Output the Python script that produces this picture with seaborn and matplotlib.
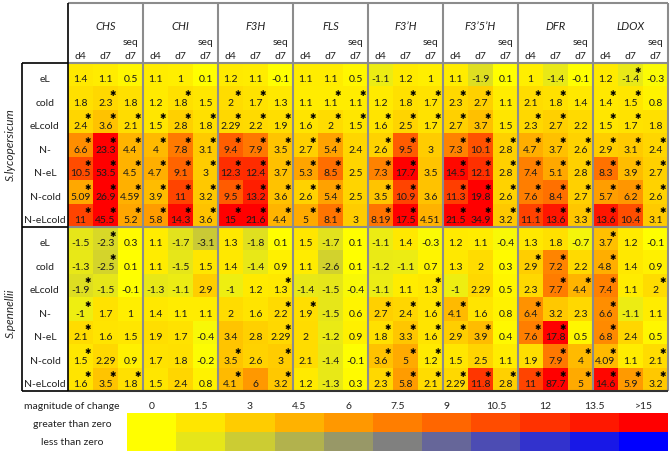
"""Fold change of flavonoid genes in two tomato species, drawn as a heatmap."""
import numpy as np
import matplotlib
matplotlib.use("Agg")
import matplotlib.pyplot as plt
from matplotlib.colors import LinearSegmentedColormap
import seaborn as sns

genes = ["CHS", "CHI", "F3H", "FLS", "F3\u2019H", "F3\u20195\u2019H", "DFR", "LDOX"]
days = ["d4", "d7", "d7"]
conditions = ["eL", "cold", "eLcold", "N-", "N-eL", "N-cold", "N-eLcold"]
species = ["S.lycopersicum", "S.pennellii"]

# one row per condition, columns: gene x (d4, d7, seq d7)
lyc_values = [
    [1.4, 1.1, 0.5, 1.1, 1, 0.1, 1.2, 1.1, -0.1, 1.1, 1.1, 0.5, -1.1, 1.2, 1, 1.1, -1.9, 0.1, 1, -1.4, -0.1, 1.2, -1.4, -0.3],
    [1.8, 2.3, 1.8, 1.2, 1.8, 1.5, 2, 1.7, 1.3, 1.1, 1.1, 1.1, 1.2, 1.8, 1.7, 2.3, 2.7, 1.1, 2.1, 1.8, 1.4, 1.4, 1.5, 0.8],
    [2.4, 3.6, 2.1, 1.5, 2.8, 1.8, 2.29, 2.2, 1.9, 1.6, 2, 1.5, 1.6, 2.5, 1.7, 2.7, 3.7, 1.5, 2.3, 2.7, 2.2, 1.5, 1.7, 1.8],
    [6.6, 23.3, 4.4, 4, 7.8, 3.1, 9.4, 7.9, 3.5, 2.7, 5.4, 2.4, 2.6, 9.5, 3, 7.3, 10.1, 2.8, 4.7, 3.7, 2.6, 2.9, 3.1, 2.4],
    [10.5, 53.5, 4.5, 4.7, 9.1, 3, 12.3, 12.4, 3.7, 5.3, 8.5, 2.5, 7.3, 17.7, 3.5, 14.5, 12.1, 2.8, 7.4, 5.1, 2.8, 8.3, 3.9, 2.7],
    [5.09, 26.9, 4.59, 3.9, 11, 3.2, 9.5, 13.2, 3.6, 2.6, 5.4, 2.5, 3.5, 10.9, 3.6, 11.3, 19.8, 2.6, 7.6, 8.4, 2.7, 5.7, 6.2, 2.6],
    [11, 45.5, 5.2, 5.8, 14.3, 3.6, 15, 21.6, 4.4, 5, 8.1, 3, 8.19, 17.5, 4.51, 21.5, 34.9, 3.2, 11.1, 13.6, 3.3, 13.6, 10.4, 3.1],
]
pen_values = [
    [-1.5, -2.3, 0.3, 1.1, -1.7, -3.1, 1.3, -1.8, 0.1, 1.5, -1.7, 0.1, -1.1, 1.4, -0.3, 1.2, 1.1, -0.4, 1.3, 1.8, -0.7, 3.7, 1.2, -0.1],
    [-1.3, -2.5, 0.1, 1.1, -1.5, 1.5, 1.4, -1.4, 0.9, 1.1, -2.6, 0.1, -1.2, -1.1, 0.7, 1.3, 2, 0.3, 2.9, 7.2, 2.2, 4.8, 1.4, 0.9],
    [-1.9, -1.5, -0.1, -1.3, -1.1, 2.9, -1, 1.2, 1.3, -1.4, -1.5, -0.4, -1.1, 1.1, 1.3, -1, 2.29, 0.5, 2.3, 7.7, 4.4, 7.4, 1.1, 2],
    [-1, 1.7, 1, 1.4, 1.1, 1.1, 2, 1.6, 2.2, 1.9, -1.5, 0.6, 2.7, 2.4, 1.6, 4.1, 1.6, 0.8, 6.4, 3.2, 2.3, 6.6, -1.1, 1.1],
    [2.1, 1.6, 1.5, 1.9, 1.7, -0.4, 3.4, 2.8, 2.29, 2, -1.2, 0.9, 1.8, 3.3, 1.6, 2.9, 3.9, 0.4, 7.6, 17.8, 0.5, 6.8, 2.4, 0.5],
    [1.5, 2.29, 0.9, 1.7, 1.8, -0.2, 3.5, 2.6, 3, 2.1, -1.4, -0.1, 3.6, 5, 1.2, 1.5, 2.5, 1.1, 1.9, 7.9, 4, 4.09, 1.1, 2.1],
    [1.6, 3.5, 1.8, 1.5, 2.4, 0.8, 4.1, 6, 3.2, 1.2, -1.3, 0.3, 2.3, 5.8, 2.1, 2.29, 11.8, 2.8, 11, 87.7, 5, 14.6, 5.9, 3.2],
]

# column indices of significant cells (star), per condition row
lyc_stars = [
    [22],
    [1, 4, 6, 7, 10, 11, 13, 14, 15, 16, 18, 19, 21, 22],
    [0, 1, 2, 3, 4, 5, 6, 7, 8, 9, 10, 11, 12, 13, 14, 15, 16, 18, 19, 21, 22],
    [0, 1, 2, 3, 4, 5, 6, 7, 8, 9, 10, 12, 13, 15, 16, 17, 18, 19, 20, 21, 22, 23],
    [0, 1, 2, 3, 4, 5, 6, 7, 8, 9, 10, 12, 13, 15, 16, 17, 18, 19, 20, 21, 22, 23],
    [0, 1, 2, 3, 4, 5, 6, 7, 8, 9, 10, 12, 13, 15, 16, 17, 18, 19, 20, 21, 22, 23],
    [0, 1, 2, 3, 4, 5, 6, 7, 8, 9, 10, 12, 13, 15, 16, 17, 18, 19, 20, 21, 22, 23],
]
pen_stars = [
    [1, 21],
    [1, 18, 19, 21],
    [0, 8, 14, 19, 20, 21, 23],
    [0, 8, 9, 12, 13, 14, 15, 18, 21],
    [0, 8, 12, 13, 14, 15, 16, 18, 19, 21],
    [0, 6, 8, 12, 13, 14, 19, 20, 21, 23],
    [0, 1, 2, 6, 8, 12, 13, 14, 15, 16, 17, 18, 19, 20, 21, 22, 23],
]

legend_ticks = ["0", "1.5", "3", "4.5", "6", "7.5", "9", "10.5", "12", "13.5", ">15"]
legend_steps = [0, 1.5, 3, 4.5, 6, 7.5, 9, 10.5, 12, 13.5, 15]

sns.set_style("white")
plt.rcParams['font.family'] = ['Lato', 'DejaVu Sans']

# negative fold change: yellow -> blue, positive: yellow -> red
cmap = LinearSegmentedColormap.from_list(
    "fc", [(0.0, "#0000ff"), (0.5, "#ffff00"), (1.0, "#ff0000")])

values = np.array(lyc_values + pen_values)
stars = lyc_stars + pen_stars
n_rows, n_cols = values.shape

fig = plt.figure(figsize=(6.72, 4.55), dpi=100)
ax = fig.add_axes([68 / 672, 1 - 391 / 455, 600 / 672, 328 / 455])
sns.heatmap(values, cmap=cmap, vmin=-15, vmax=15, cbar=False, ax=ax,
            xticklabels=False, yticklabels=False)

for i in range(n_rows):
    for j in range(n_cols):
        ax.text(j + 0.5, i + 0.72, f"{values[i, j]:g}", ha="center",
                va="center", fontsize=7.5, color="#1a1a1a")
    for j in stars[i]:
        ax.text(j + 0.78, i + 0.3, "\u2731", ha="center", va="center",
                fontsize=5.5, color="black", family="DejaVu Sans")

# header
top = -2.56
for g, gene in enumerate(genes):
    ax.text(3 * g + 1.5, -1.55, gene, ha="center", va="center",
            fontsize=8, style="italic", color="#222222")
    ax.text(3 * g + 2.5, -0.88, "seq", ha="center", va="center",
            fontsize=7.5, color="#222222")
    for k, d in enumerate(days):
        ax.text(3 * g + k + 0.5, -0.28, d, ha="center", va="center",
                fontsize=7.5, color="#222222")

# row labels and species labels
lab_x = (45 - 68) / 25
box_x = (22 - 68) / 25
for s, sp in enumerate(species):
    for r, cond in enumerate(conditions):
        ax.text(lab_x, 7 * s + r + 0.72, cond, ha="center", va="center",
                fontsize=7.5, color="#222222")
    ax.text((10 - 68) / 25, 7 * s + 3.5 + 0.2 * s, sp, rotation=90,
            ha="center", va="center", fontsize=8.5, style="italic")

# grid lines
line = dict(clip_on=False, solid_capstyle="butt")
for g in range(1, 8):
    ax.plot([3 * g, 3 * g], [top, n_rows], color="#8c8c8c", lw=1.5, **line)
ax.plot([24, 24], [top, n_rows], color="#8c8c8c", lw=1.5, **line)
ax.plot([0, 24], [top, top], color="#8c8c8c", lw=1.5, **line)
ax.plot([0, 24], [0, 0], color="#8c8c8c", lw=1.5, **line)
ax.plot([0, 24], [7, 7], color="#8c8c8c", lw=1.5, **line)
ax.plot([0, 24], [n_rows, n_rows], color="#333333", lw=1.5, **line)
ax.plot([0, 0], [top, n_rows], color="black", lw=1.2, **line)
ax.plot([box_x, box_x], [0, n_rows], color="black", lw=1.2, **line)
ax.plot([box_x, 0], [0, 0], color="black", lw=1.2, **line)
ax.plot([box_x, 0], [7, 7], color="black", lw=1.2, **line)
ax.plot([box_x, 0], [n_rows, n_rows], color="black", lw=1.2, **line)

# legend as a small heatmap
leg = fig.add_axes([127 / 672, 1 - 451 / 455, 541 / 672, 38 / 455])
leg_vals = np.array([legend_steps, [-v for v in legend_steps]])
sns.heatmap(leg_vals, cmap=cmap, vmin=-15, vmax=15, cbar=False, ax=leg,
            xticklabels=False, yticklabels=False)
for k, t in enumerate(legend_ticks):
    leg.text(k + 0.5, -0.32, t, ha="center", va="center", fontsize=7.5,
             color="#222222")
lx = (72 - 127) / 49.2
leg.text(lx, -0.32, "magnitude of change", ha="center", va="center",
         fontsize=7.5, color="#222222")
leg.text(lx, 0.62, "greater than zero", ha="center", va="center",
         fontsize=7.5, color="#222222")
leg.text(lx, 1.55, "less than zero", ha="center", va="center",
         fontsize=7.5, color="#222222")

fig.savefig("out.png", dpi=100)
